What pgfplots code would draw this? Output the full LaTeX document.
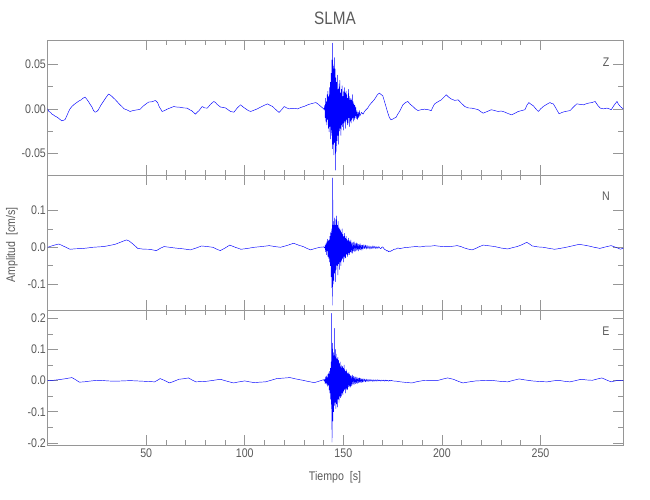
\documentclass[border=0pt]{standalone}
\usepackage{pgfplots}
\pgfplotsset{compat=1.18}
\usepackage{fontspec}
\setmainfont{Liberation Sans}[FakeStretch=0.85]
\definecolor{axgray}{RGB}{150,150,150}
\definecolor{txtgray}{RGB}{90,90,90}
\pgfplotsset{
  seis/.style={
    width=575.7pt, height=135pt, scale only axis,
    anchor=south west,
    xmin=0, xmax=292,
    xtick={50,100,150,200,250}, minor x tick num=4,
    scaled ticks=false, no markers,
    axis line style={axgray, line width=0.6pt},
    every tick/.style={axgray, line width=0.6pt},
    major tick length=10pt, minor tick length=5pt,
    tick label style={text=txtgray, font=\fontsize{12.5}{13}\selectfont},
    yticklabel style={inner sep=1.5pt},
    /pgf/number format/assume math mode=true,
  },
  trace/.style={color=blue, line width=0.45pt, line join=round, mark=none},
}
\begin{document}
\begin{tikzpicture}[x=1pt,y=1pt]
\path[use as bounding box] (0,0) rectangle (650,500);
% ---------------- Z ----------------
\begin{axis}[seis, at={(47.6pt,325pt)},
  ymin=-0.0745, ymax=0.0775,
  ytick={-0.05,0,0.05}, minor y tick num=1,
  xticklabels={},
  yticklabel style={/pgf/number format/.cd, fixed, fixed zerofill, precision=2},
]
\addplot[trace] coordinates {
(0,0.000) (0.7,-0.003) (1.5,-0.004) (2.2,-0.006) (2.9,-0.0068) (3.6,-0.008) (4.5,-0.009) (5.5,-0.0105) (6.3,-0.012) (7.2,-0.0135) (8.0,-0.013) (8.9,-0.012) (9.7,-0.008) (10.5,-0.004) (11.4,0.000) (12.3,0.0026) (13.5,0.005) (14.8,0.0071) (16,0.009) (17,0.010) (18,0.012) (19.0,0.0132) (19.8,0.011) (20.7,0.0083) (21.6,0.005) (22.5,0.002) (23.3,-0.002) (24.1,-0.0038) (25,-0.003) (25.8,-0.001) (27,0.004) (28.5,0.009) (29.7,0.013) (30.9,0.0166) (31.8,0.0155) (32.6,0.014) (34,0.011) (35.2,0.0083) (36.5,0.005) (37.7,0.0026) (38.8,0.000) (40,-0.001) (41,-0.002) (41.9,-0.003) (43.2,-0.002) (44.5,-0.0015) (45.8,-0.001) (47.0,-0.0004) (48,0.002) (49,0.004) (50.2,0.006) (51.3,0.0076) (53,0.008) (54.7,0.0094) (55.8,0.007) (56.5,0.003) (57,0.001) (58.1,-0.003) (59.3,-0.002) (60.6,-0.0004) (62.2,0.001) (64.0,0.0026) (65.5,0.002) (67,0.0018) (69,0.001) (70.8,0.0008) (72,-0.001) (73,-0.002) (74,-0.004) (75.0,-0.006) (75.8,-0.004) (76.8,-0.002) (78.4,0.0026) (79.7,0.001) (81.0,0.0008) (82.6,0.005) (84.3,0.0083) (85.2,0.007) (86,0.005) (87.7,0.002) (89,0.0015) (90.2,0.001) (91.5,-0.001) (92.8,-0.003) (94.5,-0.0038) (96.2,0.001) (97.9,0.0045) (99.2,0.002) (100.5,0.000) (101.8,-0.002) (103.0,-0.003) (104.7,-0.0015) (106.4,0.000) (109,0.003) (111.5,0.0056) (112.8,0.004) (114.1,0.0026) (115.8,-0.001) (117.4,-0.0041) (118.7,-0.001) (120.0,0.0026) (121.3,0.001) (122.5,0.000) (124.5,0.0005) (126.8,0.000) (129,0.002) (130.5,0.003) (131.9,0.0045) (134,0.006) (136.1,0.007) (137.4,0.005) (138.6,0.0026) (139.5,0.001) (140.3,-0.0008)
(140.6,0.004) (140.8,-0.010) (141.0,0.012) (141.2,-0.015) (141.4,0.008) (141.6,-0.018) (141.8,0.016) (142.0,-0.012) (142.2,0.020) (142.4,-0.022) (142.6,0.014) (142.8,-0.026) (143.0,0.024) (143.2,-0.020) (143.4,0.030) (143.6,-0.034) (143.8,0.040) (144.0,-0.030) (144.2,0.055) (144.4,-0.045) (144.6,0.074) (144.8,-0.040) (145.0,0.048) (145.2,-0.052) (145.4,0.058) (145.6,-0.038) (145.8,0.045) (146.0,-0.069) (146.2,0.035) (146.4,-0.048) (146.6,0.030) (146.8,-0.036) (147.0,0.038) (147.2,-0.030) (147.4,0.022) (147.6,-0.040) (147.8,0.028) (148.0,-0.025) (148.2,0.032) (148.4,-0.022) (148.6,0.018) (148.8,-0.030) (149.0,0.022) (149.2,-0.018) (149.4,0.026) (149.6,-0.020) (149.8,0.014) (150.0,-0.024) (150.2,0.020) (150.4,-0.016) (150.6,0.024) (150.8,-0.014) (151.0,0.018) (151.2,-0.022) (151.4,0.020) (151.6,-0.012) (151.8,0.016) (152.0,-0.018) (152.2,0.012) (152.4,-0.016) (152.6,0.022) (152.8,-0.010) (153.0,0.014) (153.2,-0.020) (153.4,0.010) (153.6,-0.014) (153.8,0.012) (154.0,-0.016) (154.2,0.010) (154.4,-0.012) (154.6,0.016) (154.8,-0.010) (155.0,0.008) (155.2,-0.014) (155.4,0.006) (155.6,-0.012) (155.8,0.004) (156.0,-0.010) (156.3,0.002) (156.6,-0.011) (156.9,-0.002) (157.2,-0.012) (157.5,-0.004) (157.8,-0.010) (158.1,-0.002) (158.4,-0.008)
(159.2,-0.004) (160.0,-0.006) (160.7,-0.003) (161.5,-0.001) (162.4,0.001) (163.2,0.004) (164.1,0.0064) (165.2,0.009) (166.2,0.012) (167.3,0.016) (168.3,0.0177) (169.2,0.016) (170.0,0.0147) (171.3,0.005) (172.6,-0.0049) (173.4,-0.010) (174.2,-0.0124) (175.5,-0.011) (176.8,-0.0094) (177.6,-0.006) (178.5,-0.003) (179.4,0.001) (180.2,0.0045) (181.5,0.007) (182.7,0.0083) (184,0.005) (185.3,0.0026) (186.5,0.000) (187.8,-0.0019) (189.5,-0.001) (191.2,-0.0004) (193,-0.001) (194.6,-0.002) (195.4,0.002) (196.3,0.0056) (198,0.008) (199.7,0.0101) (201,0.013) (202.2,0.0158) (203.5,0.013) (204.8,0.011) (206.5,0.0095) (208.2,0.0101) (210,0.006) (211.6,0.0026) (213.3,0.001) (215.0,0.0008) (216.7,0.000) (218.4,-0.001) (219.6,-0.003) (220.9,-0.0049) (223,-0.003) (225.1,-0.001) (226.8,-0.002) (228.5,-0.003) (229.8,-0.0025) (231.1,-0.003) (233.2,-0.005) (235.3,-0.0068) (237,-0.005) (238.7,-0.003) (240.4,-0.002) (242.1,-0.001) (243.1,0.004) (244.1,0.0071) (245.2,0.005) (246.4,0.0034) (247.6,0.000) (248.9,-0.003) (250.1,0.000) (251.4,0.0026) (253.1,0.005) (254.8,0.0071) (255.6,0.006) (256.5,0.0056) (258,0.000) (259.4,-0.0056) (261,-0.004) (262.5,-0.003) (263.7,-0.0025) (265.0,-0.002) (266.7,0.002) (268.4,0.0056) (270.1,0.005) (271.8,0.0045) (273,0.0055) (274.3,0.0064) (276,0.007) (277.7,0.0083) (279,0.004) (280.3,0.0008) (282,0.000) (283.7,0.0008) (284.8,0.000) (285.9,-0.001) (287.3,0.004) (288.8,0.0083) (289.6,0.005) (290.5,0.0026) (291.3,0.001) (292,0.000)
};
\node[txtgray, font=\fontsize{12.5}{13}\selectfont] at (rel axis cs:0.97,0.837) {Z};
\end{axis}
% ---------------- N ----------------
\begin{axis}[seis, at={(47.6pt,190pt)},
  ymin=-0.170, ymax=0.196,
  ytick={-0.1,0,0.1}, minor y tick num=1,
  xticklabels={},
  yticklabel style={/pgf/number format/.cd, fixed, fixed zerofill, precision=1},
]
\addplot[trace] coordinates {
(0,0.000) (2.8,0.005) (5.7,0.009) (8.5,0.002) (11.4,-0.0054) (14.2,-0.004) (17.1,-0.0036) (20,-0.002) (22.8,0.000) (25.6,0.001) (28.5,0.002) (31.4,0.005) (34.2,0.008) (37.1,0.014) (40.0,0.020) (41.4,0.017) (42.8,0.011) (44.3,0.004) (45.7,-0.003) (48.5,-0.005) (51.4,-0.0054) (53.3,-0.007) (55.2,-0.009) (57.1,-0.003) (59.0,0.002) (61.9,0.000) (64.7,-0.002) (68.5,-0.004) (72.4,-0.007) (75.3,-0.002) (78.1,0.0036) (81,0.002) (83.8,0.000) (85.7,-0.005) (87.6,-0.009) (90,-0.002) (92.4,0.006) (95.2,0.000) (98.1,-0.0054) (101.5,-0.003) (104.8,0.000) (108.6,0.002) (112.4,0.0045) (115.2,0.002) (118.1,0.000) (121.5,0.005) (124.8,0.011) (127.2,0.006) (129.6,0.002) (131.5,-0.003) (133.4,-0.007) (135.8,-0.003) (138.1,0.000) (140.0,0.001) (140.6,-0.002)
(140.8,0.005) (141.0,-0.012) (141.2,0.010) (141.4,-0.020) (141.6,0.015) (141.8,-0.010) (142.0,0.022) (142.2,-0.025) (142.4,0.018) (142.6,-0.030) (142.8,0.020) (143.0,-0.040) (143.2,0.030) (143.4,-0.050) (143.6,0.040) (143.8,-0.080) (144.0,0.050) (144.2,-0.110) (144.4,0.060) (144.5,-0.157) (144.6,0.188) (144.8,-0.100) (145.0,0.070) (145.2,-0.090) (145.4,0.080) (145.6,-0.070) (145.8,0.060) (146.0,-0.093) (146.2,0.075) (146.4,-0.060) (146.6,0.085) (146.8,-0.050) (147.0,0.060) (147.2,-0.075) (147.4,0.070) (147.6,-0.045) (147.8,0.055) (148.0,-0.060) (148.2,0.050) (148.4,-0.040) (148.6,0.045) (148.8,-0.050) (149.0,0.040) (149.2,-0.035) (149.4,0.050) (149.6,-0.030) (149.8,0.035) (150.0,-0.040) (150.2,0.030) (150.4,-0.025) (150.6,0.038) (150.8,-0.030) (151.0,0.025) (151.2,-0.028) (151.4,0.030) (151.6,-0.020) (151.8,0.022) (152.0,-0.025) (152.2,0.018) (152.4,-0.020) (152.6,0.025) (152.8,-0.015) (153.0,0.018) (153.2,-0.020) (153.4,0.015) (153.6,-0.012) (153.8,0.020) (154.0,-0.015) (154.3,0.012) (154.6,-0.016) (154.9,0.014) (155.2,-0.010) (155.5,0.015) (155.8,-0.012) (156.1,0.010) (156.4,-0.010) (156.7,0.012) (157.0,-0.008) (157.3,0.010) (157.6,-0.010) (157.9,0.008) (158.2,-0.006) (158.5,0.010) (158.8,-0.007) (159.1,0.006) (159.4,-0.008) (159.7,0.006) (160.0,-0.005) (160.4,0.007) (160.8,-0.004) (161.2,0.006) (161.6,-0.005) (162.0,0.005) (162.5,-0.004) (163.0,0.004) (163.5,-0.005) (164.0,0.003) (164.5,-0.004) (165.0,0.004) (165.5,-0.003) (166.0,0.003) (166.5,-0.004) (167.0,0.002) (167.5,-0.003) (168.0,0.002) (168.5,-0.002) (169,-0.004) (169.5,0.000) (170,0.001) (170.5,-0.003) (171,-0.006) (171.5,-0.007) (172,-0.010) (172.5,-0.009) (173,-0.012) (173.5,-0.010) (174,-0.011) (174.5,-0.009) (175,-0.008) (175.5,-0.006) (176,-0.005) (176.5,-0.005) (177,-0.004) (177.5,-0.002) (178,-0.002) (178.5,-0.004) (179.1,-0.003)
(181,-0.001) (183,0.000) (184.8,0.001) (186.7,0.002) (189,0.001) (191.5,0.003) (194,0.003) (196.3,0.0045) (198.5,0.003) (201,0.002) (203.9,0.002) (205.8,0.003) (207.7,0.0045) (209.6,0.002) (211.5,-0.002) (213.4,-0.005) (215.3,-0.007) (217.2,-0.003) (219.1,0.002) (221.0,0.006) (223.9,0.004) (226.8,0.002) (230,-0.002) (233.4,-0.0045) (235.8,-0.001) (238.2,0.002) (240.6,0.007) (243.0,0.0136) (244.4,0.009) (245.8,0.0036) (248.7,0.001) (251.5,0.000) (254.4,-0.003) (257.2,-0.0054) (260,-0.003) (263.0,0.000) (266.3,0.004) (269.6,0.008) (272,0.006) (274.4,0.0036) (277.3,0.000) (280.1,-0.003) (283,0.001) (285.8,0.0045) (288.2,0.000) (290.6,-0.0054) (292,-0.002)
};
\node[txtgray, font=\fontsize{12.5}{13}\selectfont] at (rel axis cs:0.97,0.844) {N};
\end{axis}
% ---------------- E ----------------
\begin{axis}[seis, at={(47.6pt,55pt)},
  ymin=-0.207, ymax=0.227,
  ytick={-0.2,-0.1,0,0.1,0.2}, minor y tick num=1,
  yticklabel style={/pgf/number format/.cd, fixed, fixed zerofill, precision=1},
]
\addplot[trace] coordinates {
(0,0.000) (2.8,0.001) (5.7,0.003) (9,0.006) (12.3,0.0097) (14.2,0.003) (16.1,-0.005) (18.5,-0.004) (20.9,-0.002) (23.7,0.000) (26.6,0.001) (30.4,-0.001) (34.2,-0.002) (38,-0.001) (41.9,0.000) (45.2,-0.001) (48.5,-0.002) (51.4,-0.003) (54.3,-0.004) (55.7,0.001) (57.1,0.0065) (59.5,0.000) (61.9,-0.0075) (64.2,-0.002) (66.6,0.0043) (69,0.006) (71.4,0.0086) (73.3,0.002) (75.2,-0.004) (78,-0.003) (80.9,-0.002) (84.2,0.001) (87.6,0.0043) (91,-0.002) (94.3,-0.0075) (97.1,-0.004) (100.0,-0.001) (102.4,-0.004) (104.8,-0.0065) (107.6,-0.005) (110.5,-0.004) (113.3,0.001) (116.2,0.0065) (119.5,0.008) (122.9,0.0097) (126.2,0.005) (129.5,0.001) (132.4,-0.003) (135.3,-0.0065) (137.6,-0.002) (140.0,0.003) (140.4,-0.002)
(140.6,0.005) (140.8,-0.010) (141.0,0.012) (141.2,-0.008) (141.4,0.015) (141.6,-0.012) (141.8,0.010) (142.0,-0.018) (142.2,0.020) (142.4,-0.015) (142.6,0.025) (142.8,-0.030) (143.0,0.030) (143.2,-0.040) (143.4,0.040) (143.6,-0.060) (143.8,0.060) (144.0,-0.090) (144.1,0.216) (144.25,-0.198) (144.5,0.120) (144.7,-0.130) (144.9,0.090) (145.1,-0.100) (145.3,0.080) (145.45,-0.080) (145.6,0.168) (145.8,-0.070) (146.0,0.100) (146.2,-0.090) (146.4,0.085) (146.6,-0.075) (146.8,0.070) (147.0,-0.085) (147.2,0.075) (147.4,-0.060) (147.6,0.065) (147.8,-0.070) (148.0,0.055) (148.2,-0.050) (148.4,0.060) (148.6,-0.055) (148.8,0.045) (149.0,-0.050) (149.2,0.050) (149.4,-0.040) (149.6,0.045) (149.8,-0.045) (150.0,0.040) (150.2,-0.035) (150.4,0.050) (150.6,-0.030) (150.8,0.035) (151.0,-0.040) (151.2,0.030) (151.4,-0.025) (151.6,0.035) (151.8,-0.030) (152.0,0.025) (152.2,-0.028) (152.4,0.022) (152.6,-0.020) (152.8,0.026) (153.0,-0.018) (153.2,0.020) (153.4,-0.022) (153.6,0.016) (153.8,-0.018) (154.0,0.015) (154.3,-0.016) (154.6,0.018) (154.9,-0.012) (155.2,0.014) (155.5,-0.012) (155.8,0.012) (156.1,-0.010) (156.4,0.012) (156.7,-0.008) (157.0,0.010) (157.3,-0.009) (157.6,0.008) (157.9,-0.007) (158.2,0.009) (158.5,-0.006) (158.8,0.007) (159.1,-0.006) (159.4,0.006) (159.7,-0.005) (160.0,0.006) (160.4,-0.004) (160.8,0.005) (161.2,-0.004) (161.6,0.005) (162.0,-0.003) (162.5,0.004) (163.0,-0.003) (163.5,0.004) (164.0,-0.002) (164.5,0.003) (165.0,-0.003) (165.5,0.003) (166.0,-0.002) (166.5,0.003) (167.0,-0.002) (167.5,0.003) (168.0,-0.001) (168.5,0.002) (169.0,-0.002) (169.5,0.002) (170.0,-0.001) (170.5,0.002) (171.0,-0.002) (171.5,0.002) (172.0,-0.001) (172.5,0.001) (173.0,-0.002) (173.5,0.001) (174.0,-0.001) (174.5,0.001) (175.0,-0.001)
(177,-0.002) (179,-0.004) (182,-0.006) (184.8,-0.0075) (187.6,-0.003) (190.5,0.000) (194.3,0.001) (198.2,0.001) (200.5,0.005) (202.9,0.0086) (205.8,0.0043) (208.2,-0.002) (210.6,-0.0075) (213.9,-0.004) (217.2,-0.001) (221,0.000) (224.8,0.001) (229,-0.002) (233.4,-0.004) (236.3,0.001) (239.1,0.0054) (242.4,0.002) (245.8,-0.001) (249.6,-0.003) (253.4,-0.004) (256.3,-0.001) (259.2,0.001) (262,-0.002) (264.9,-0.004) (267.8,0.000) (270.6,0.0043) (273.5,0.002) (276.3,0.001) (278.7,0.005) (281.1,0.0086) (283.5,0.002) (285.8,-0.004) (287.8,-0.001) (289.7,0.001) (292,0.000)
};
\node[txtgray, font=\fontsize{12.5}{13}\selectfont] at (rel axis cs:0.97,0.844) {E};
\end{axis}
\node[txtgray, font=\fontsize{18}{18}\selectfont] at (335,482) {SLMA};
\node[txtgray, font=\fontsize{12.5}{13}\selectfont] at (335,23) {Tiempo\ \ [s]};
\node[txtgray, font=\fontsize{12.5}{13}\selectfont, rotate=90] at (12,255) {Amplitud\ \ [cm/s]};
\end{tikzpicture}
\end{document}
